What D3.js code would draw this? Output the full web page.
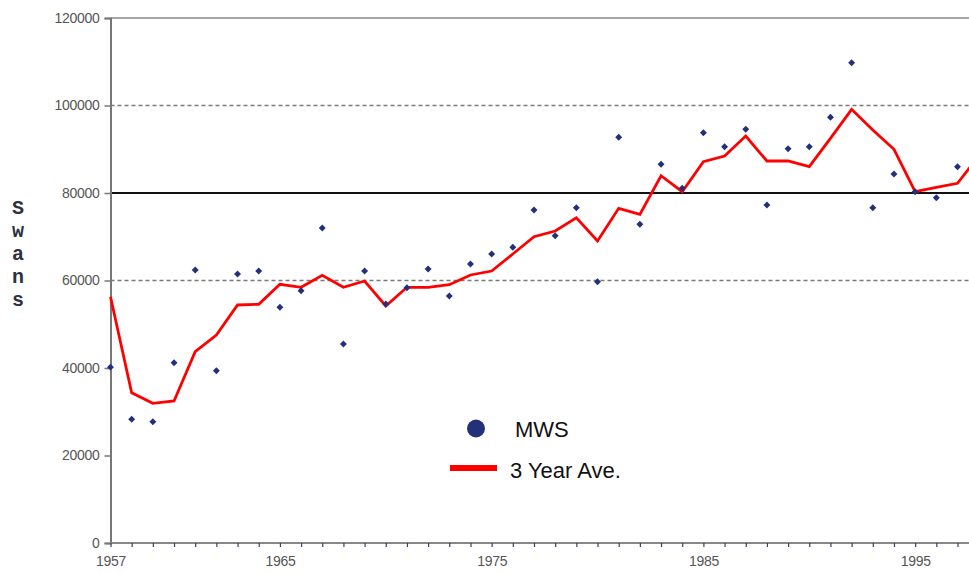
<!DOCTYPE html>
<html><head><meta charset="utf-8">
<script src="https://cdn.jsdelivr.net/npm/d3@7"></script>
<style>html,body{margin:0;padding:0;background:#fff;overflow:hidden}</style>
</head><body><svg id="c" width="969" height="574"></svg>
<script>
const years = d3.range(1957, 1998);
const mwsYears = years;
const mws = [40200,28270,27730,41210,62400,39380,61490,62170,53870,57670,
  72000,45490,62170,54630,58350,62630,56460,63770,66060,67590,
  76110,70240,76640,59730,92730,72850,86560,81070,93780,90580,
  94560,77260,90130,90580,97300,109780,76640,84340,80300,78930,86010];
const avgYears = d3.range(1957, 1999);
const avg3 = [56300,34350,31930,32460,43730,47540,54400,54560,59130,58450,
  61190,58450,59890,54170,58450,58450,59040,61260,62170,66060,
  70010,71310,74350,69030,76500,75130,83950,80300,87150,88460,
  93030,87310,87310,86010,92500,99130,94400,89990,80300,81300,82220,88460];
const yTicks = [0,20000,40000,60000,80000,100000,120000];
const xLabels = [1957,1965,1975,1985,1995];
const dashedLines = [60000,100000];
const solidLine = 80000;
const yTitle = "Swans";
const legendItems = ["MWS","3 Year Ave."];

const svg = d3.select("#c");
const pL = 110.5, pT = 18, pB = 543, pR = 1010;
const x = d3.scaleLinear().domain([1957,1997]).range([110.5,957.5]);
const y = d3.scaleLinear().domain([0,120000]).range([pB, pT]);
const labelFont = "Arial, 'Liberation Sans', sans-serif";

// gridlines
svg.selectAll(".dg").data(dashedLines).enter().append("line")
  .attr("x1",pL).attr("x2",pR).attr("y1",d=>y(d)).attr("y2",d=>y(d))
  .attr("stroke","#7a7a7a").attr("stroke-width",1.3).attr("stroke-dasharray","4,3");
svg.append("line").attr("x1",pL).attr("x2",pR).attr("y1",y(solidLine)).attr("y2",y(solidLine))
  .attr("stroke","#111").attr("stroke-width",2);
// top border
svg.append("line").attr("x1",pL).attr("x2",pR).attr("y1",y(120000)).attr("y2",y(120000))
  .attr("stroke","#888").attr("stroke-width",1.6);

// y axis
const ya = svg.append("g").attr("transform",`translate(${pL},0)`)
  .call(d3.axisLeft(y).tickValues(yTicks).tickSize(6).tickPadding(5).tickFormat(d3.format("d")));
ya.select(".domain").attr("stroke","#777").attr("stroke-width",2);
ya.selectAll(".tick line").attr("stroke","#777").attr("stroke-width",1.5);
ya.selectAll(".tick text").attr("fill","#555").style("font-family",labelFont)
  .style("font-size","14px").style("letter-spacing","-0.3px");

// x axis
const xa = svg.append("g").attr("transform",`translate(0,${pB})`)
  .call(d3.axisBottom(x).tickValues(d3.range(1957,1999)).tickSize(4).tickPadding(9)
    .tickFormat(d => xLabels.includes(d) ? String(d) : ""));
xa.select(".domain").attr("d",`M${pL},0H${pR}`).attr("stroke","#888").attr("stroke-width",2);
xa.selectAll(".tick line").attr("stroke","#3a3f70").attr("stroke-width",1.2);
xa.selectAll(".tick text").attr("fill","#555").style("font-family",labelFont)
  .style("font-size","14px").style("letter-spacing","-0.3px");

// y title stacked
svg.append("g").selectAll("text").data(yTitle.split("")).enter().append("text")
  .attr("x",18).attr("y",(d,i)=>214+i*23).attr("text-anchor","middle")
  .style("font-family","'Liberation Mono', 'Courier New', monospace").style("font-weight","bold")
  .style("font-size","20px").attr("fill","#2e3040").text(d=>d);

// avg line
const line = d3.line().x((d,i)=>x(avgYears[i])).y(d=>y(d));
svg.append("path").datum(avg3).attr("d",line).attr("fill","none")
  .attr("stroke","#ff0000").attr("stroke-width",2.8).attr("stroke-linejoin","miter");

// points (diamonds)
const sym = d3.symbol().type(d3.symbolSquare).size(24);
svg.selectAll(".pt").data(mws).enter().append("path")
  .attr("transform",(d,i)=>`translate(${x(mwsYears[i])},${y(d)}) rotate(45)`)
  .attr("d",sym).attr("fill","#23307a");

// legend
svg.append("circle").attr("cx",476).attr("cy",428.5).attr("r",9).attr("fill","#23307a");
svg.append("text").attr("x",515).attr("y",437).text(legendItems[0])
  .style("font-family",labelFont).style("font-size","22px").attr("fill","#111");
svg.append("line").attr("x1",450).attr("x2",497).attr("y1",468).attr("y2",468)
  .attr("stroke","#ff0000").attr("stroke-width",6);
svg.append("text").attr("x",510).attr("y",478).text(legendItems[1])
  .style("font-family",labelFont).style("font-size","22px").attr("fill","#111");
</script></body></html>
